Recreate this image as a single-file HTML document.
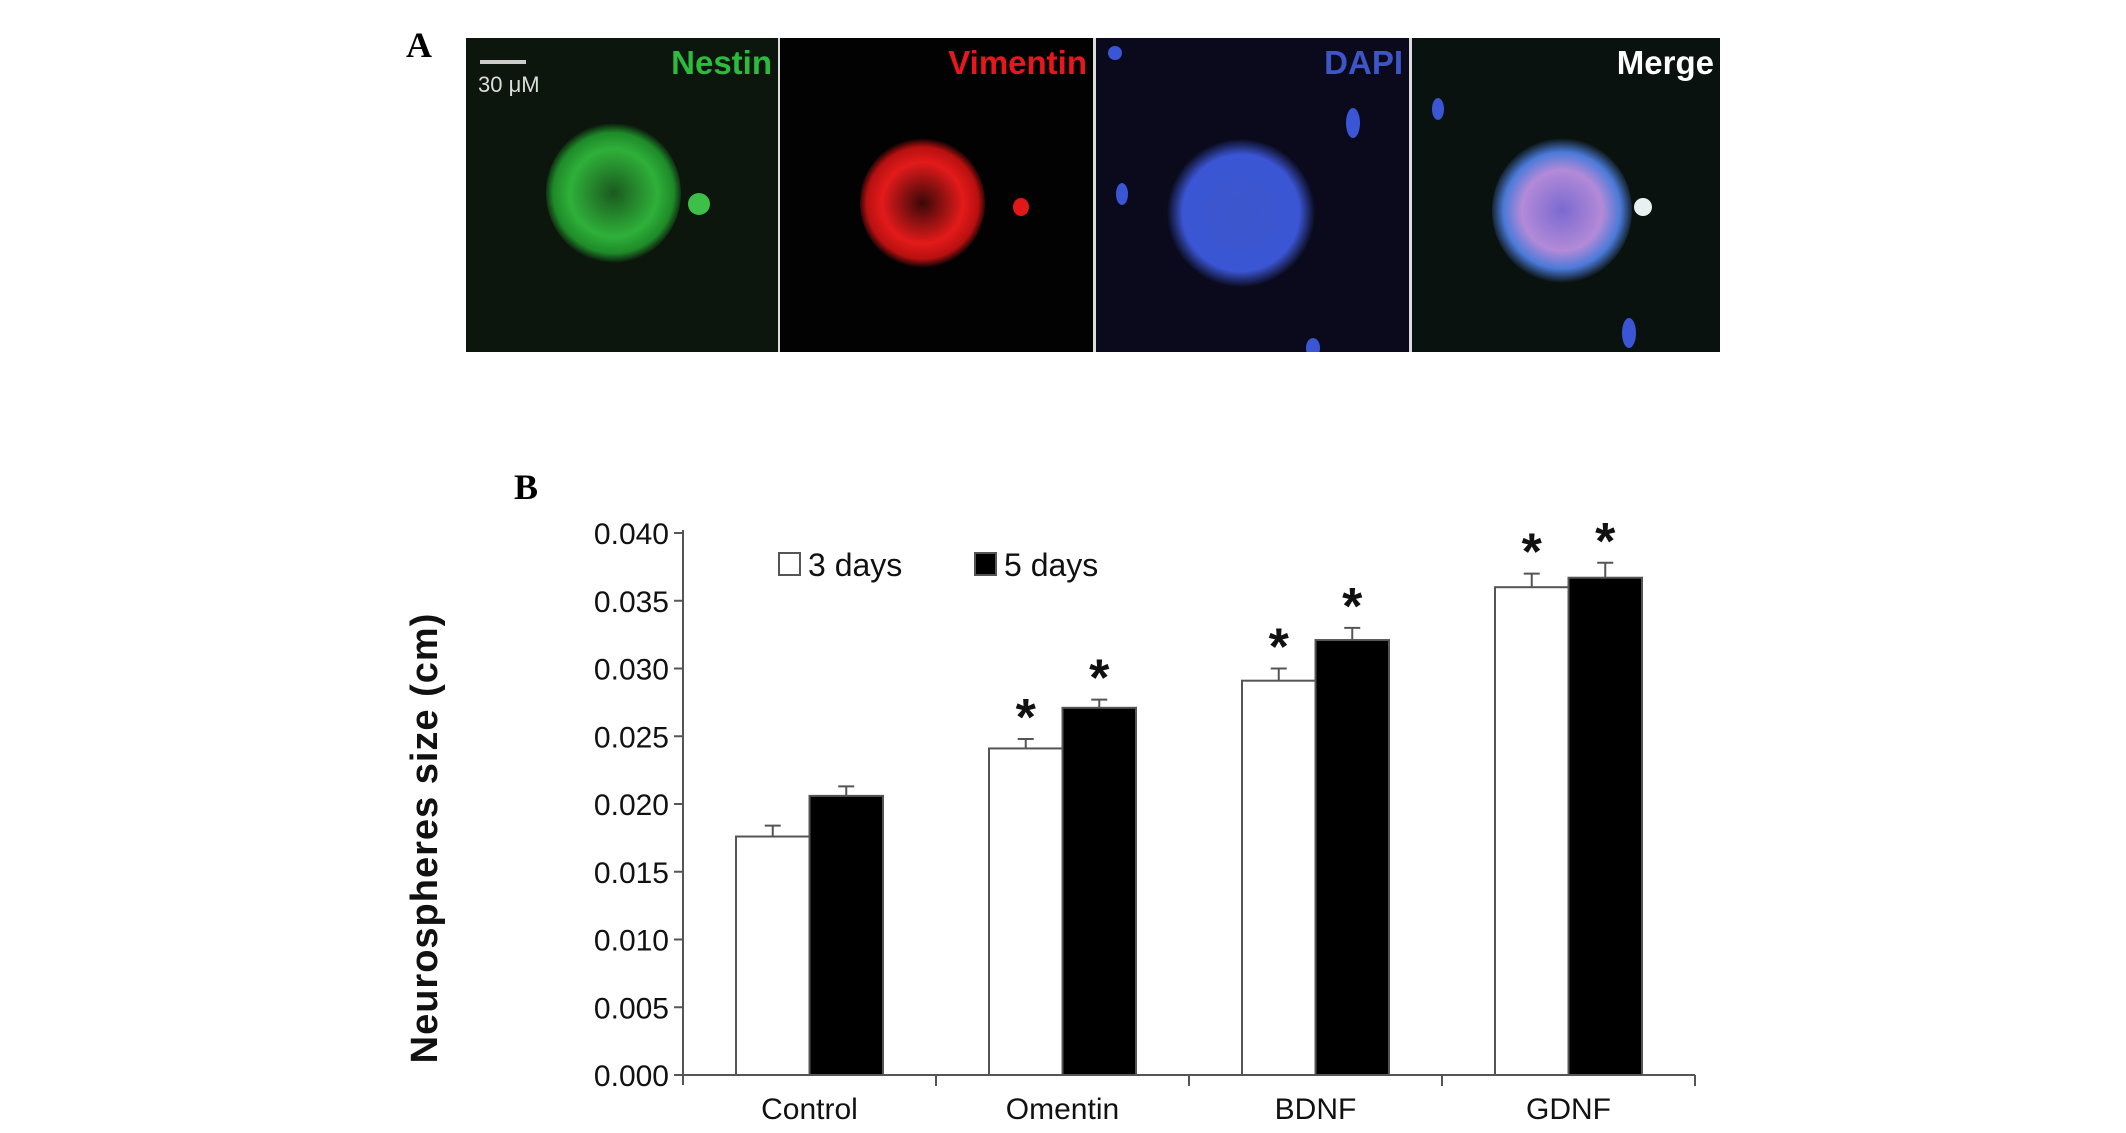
<!DOCTYPE html>
<html><head><meta charset="utf-8"><style>
body{margin:0;width:2126px;height:1133px;background:#fff;overflow:hidden;position:relative;font-family:"Liberation Sans",sans-serif}
.panel{position:absolute;top:38px;height:314px;overflow:hidden}
.lbl{position:absolute;top:6px;right:6px;font-weight:bold;font-size:33px}
.blob{position:absolute;border-radius:50%}
</style></head><body>
<div style="position:absolute;left:406px;top:24px;font:bold 36px 'Liberation Serif',serif">A</div>
<div style="position:absolute;left:466px;top:38px;width:1254px;height:314px;background:#ddd"></div>

<div class="panel" style="left:466px;width:312px;background:#0c160d">
 <div class="blob" style="left:80px;top:85px;width:135px;height:140px;background:radial-gradient(circle,#1a5a1e 0,#2fb03a 45%,#1e8a28 62%,rgba(20,60,20,0) 72%)"></div>
 <div class="blob" style="left:222px;top:155px;width:22px;height:22px;background:#3cc048"></div>
 <div style="position:absolute;left:14px;top:22px;width:46px;height:4px;background:#ccc"></div>
 <div style="position:absolute;left:12px;top:34px;color:#ddd;font-size:22px">30 μM</div>
 <div class="lbl" style="color:#2dbb3d">Nestin</div>
</div>
<div class="panel" style="left:780px;width:313px;background:#020202">
 <div class="blob" style="left:80px;top:100px;width:125px;height:130px;background:radial-gradient(circle,#3a0808 0,#e31a1a 45%,#b81010 62%,rgba(60,0,0,0) 72%)"></div>
 <div class="blob" style="left:233px;top:160px;width:16px;height:18px;background:#e01818"></div>
 <div class="lbl" style="color:#e8161d">Vimentin</div>
</div>
<div class="panel" style="left:1096px;width:313px;background:#0a0a1c">
 <div class="blob" style="left:70px;top:100px;width:150px;height:150px;background:radial-gradient(circle,#3c57cc 0,#3b56d4 55%,rgba(40,60,180,0) 70%)"></div>
 <div class="blob" style="left:12px;top:8px;width:14px;height:14px;background:#3b56d4"></div>
 <div class="blob" style="left:250px;top:70px;width:14px;height:30px;background:#3b56d4"></div>
 <div class="blob" style="left:20px;top:145px;width:12px;height:22px;background:#3b56d4"></div>
 <div class="blob" style="left:210px;top:300px;width:14px;height:20px;background:#3b56d4"></div>
 <div class="lbl" style="color:#3e55c6">DAPI</div>
</div>
<div class="panel" style="left:1412px;width:308px;background:#0a120f">
 <div class="blob" style="left:80px;top:100px;width:140px;height:145px;background:radial-gradient(circle,#7a6ad0 0,#b38ad8 40%,#4a7ad8 58%,rgba(40,80,160,0) 72%)"></div>
 <div class="blob" style="left:222px;top:160px;width:18px;height:18px;background:#e8f0f0"></div>
 <div class="blob" style="left:20px;top:60px;width:12px;height:22px;background:#3b56d4"></div>
 <div class="blob" style="left:210px;top:280px;width:14px;height:30px;background:#3b56d4"></div>
 <div class="lbl" style="color:#fff">Merge</div>
</div>

<div style="position:absolute;left:514px;top:466px;font:bold 36px 'Liberation Serif',serif">B</div>
<svg id="chart" width="2126" height="1133" style="position:absolute;left:0;top:0"></svg>
<script>
const categories=["Control","Omentin","BDNF","GDNF"];
const days3=[0.0176,0.0241,0.0291,0.0360];
const days5=[0.0206,0.0271,0.0321,0.0367];
const err3=[0.0008,0.0007,0.0009,0.0010];
const err5=[0.0007,0.0006,0.0009,0.0011];
const sig3=[false,true,true,true];
const sig5=[false,true,true,true];
const ticks=["0.000","0.005","0.010","0.015","0.020","0.025","0.030","0.035","0.040"];
const tickVals=[0,0.005,0.01,0.015,0.02,0.025,0.03,0.035,0.04];

const svg=document.getElementById('chart');
const NS='http://www.w3.org/2000/svg';
const X0=683,CW=253,Y0=1075,YMAX=0.04,YTOP=533,BW=73.5;
const y=v=>Y0-(v/YMAX)*(Y0-YTOP);
const xc=i=>X0+CW*(i+0.5);
function mk(tag,attrs,parent){const e=document.createElementNS(NS,tag);for(const k in attrs)e.setAttribute(k,attrs[k]);(parent||svg).appendChild(e);return e;}
const axes=mk('g',{stroke:'#555','stroke-width':2});


mk('line',{x1:X0,y1:YTOP-3,x2:X0,y2:Y0+10},axes);
mk('line',{x1:X0,y1:Y0,x2:X0+4*CW,y2:Y0},axes);
for(let i=1;i<=4;i++) mk('line',{x1:X0+CW*i,y1:Y0,x2:X0+CW*i,y2:Y0+11},axes);
tickVals.forEach((v,i)=>{
 mk('line',{x1:X0-9,y1:y(v),x2:X0,y2:y(v)},axes);
 const t=mk('text',{x:X0-14,y:y(v)+11,'text-anchor':'end','font-size':30,fill:'#111','font-family':'Liberation Sans'});
 t.textContent=ticks[i];
 
 
});
categories.forEach((c,i)=>{
 const t=mk('text',{x:xc(i),y:1119,'text-anchor':'middle','font-size':30,fill:'#111','font-family':'Liberation Sans'});
 t.textContent=c;
 
 
 [[days3,err3,sig3,-1,'#fff'],[days5,err5,sig5,0,'#000']].forEach(([vals,errs,sig,off,fill])=>{
  const bx=xc(i)+off*BW;
  const cx=bx+BW/2;
  mk('line',{x1:cx,y1:y(vals[i]),x2:cx,y2:y(vals[i]+errs[i]),stroke:'#555','stroke-width':2});
  mk('line',{x1:cx-8,y1:y(vals[i]+errs[i]),x2:cx+8,y2:y(vals[i]+errs[i]),stroke:'#555','stroke-width':2});
  const r=mk('rect',{x:bx,y:y(vals[i]),width:BW,height:Y0-y(vals[i]),fill:fill,stroke:'#555','stroke-width':2});
  
  
  if(sig[i]){
   const s=mk('text',{x:cx,y:y(vals[i]+errs[i])-4,'text-anchor':'middle','font-size':52,'font-weight':'bold',fill:'#111','font-family':'Liberation Sans'});
   s.textContent='*';
   
   
  }
 });
});
const yt=mk('text',{x:0,y:0,'text-anchor':'middle','font-size':38,'letter-spacing':1,'font-weight':'bold',fill:'#111','font-family':'Liberation Sans',transform:'translate(437,838) rotate(-90)'});
yt.textContent='Neurospheres size (cm)';


const lg=mk('g',{});


mk('rect',{x:779,y:553,width:21,height:22,fill:'#fff',stroke:'#555','stroke-width':2},lg);
const l1=mk('text',{x:808,y:576,'font-size':32,fill:'#111','font-family':'Liberation Sans'},lg);l1.textContent='3 days';


mk('rect',{x:975,y:553,width:21,height:22,fill:'#000',stroke:'#555','stroke-width':2},lg);
const l2=mk('text',{x:1004,y:576,'font-size':32,fill:'#111','font-family':'Liberation Sans'},lg);l2.textContent='5 days';


</script>
</body></html>
